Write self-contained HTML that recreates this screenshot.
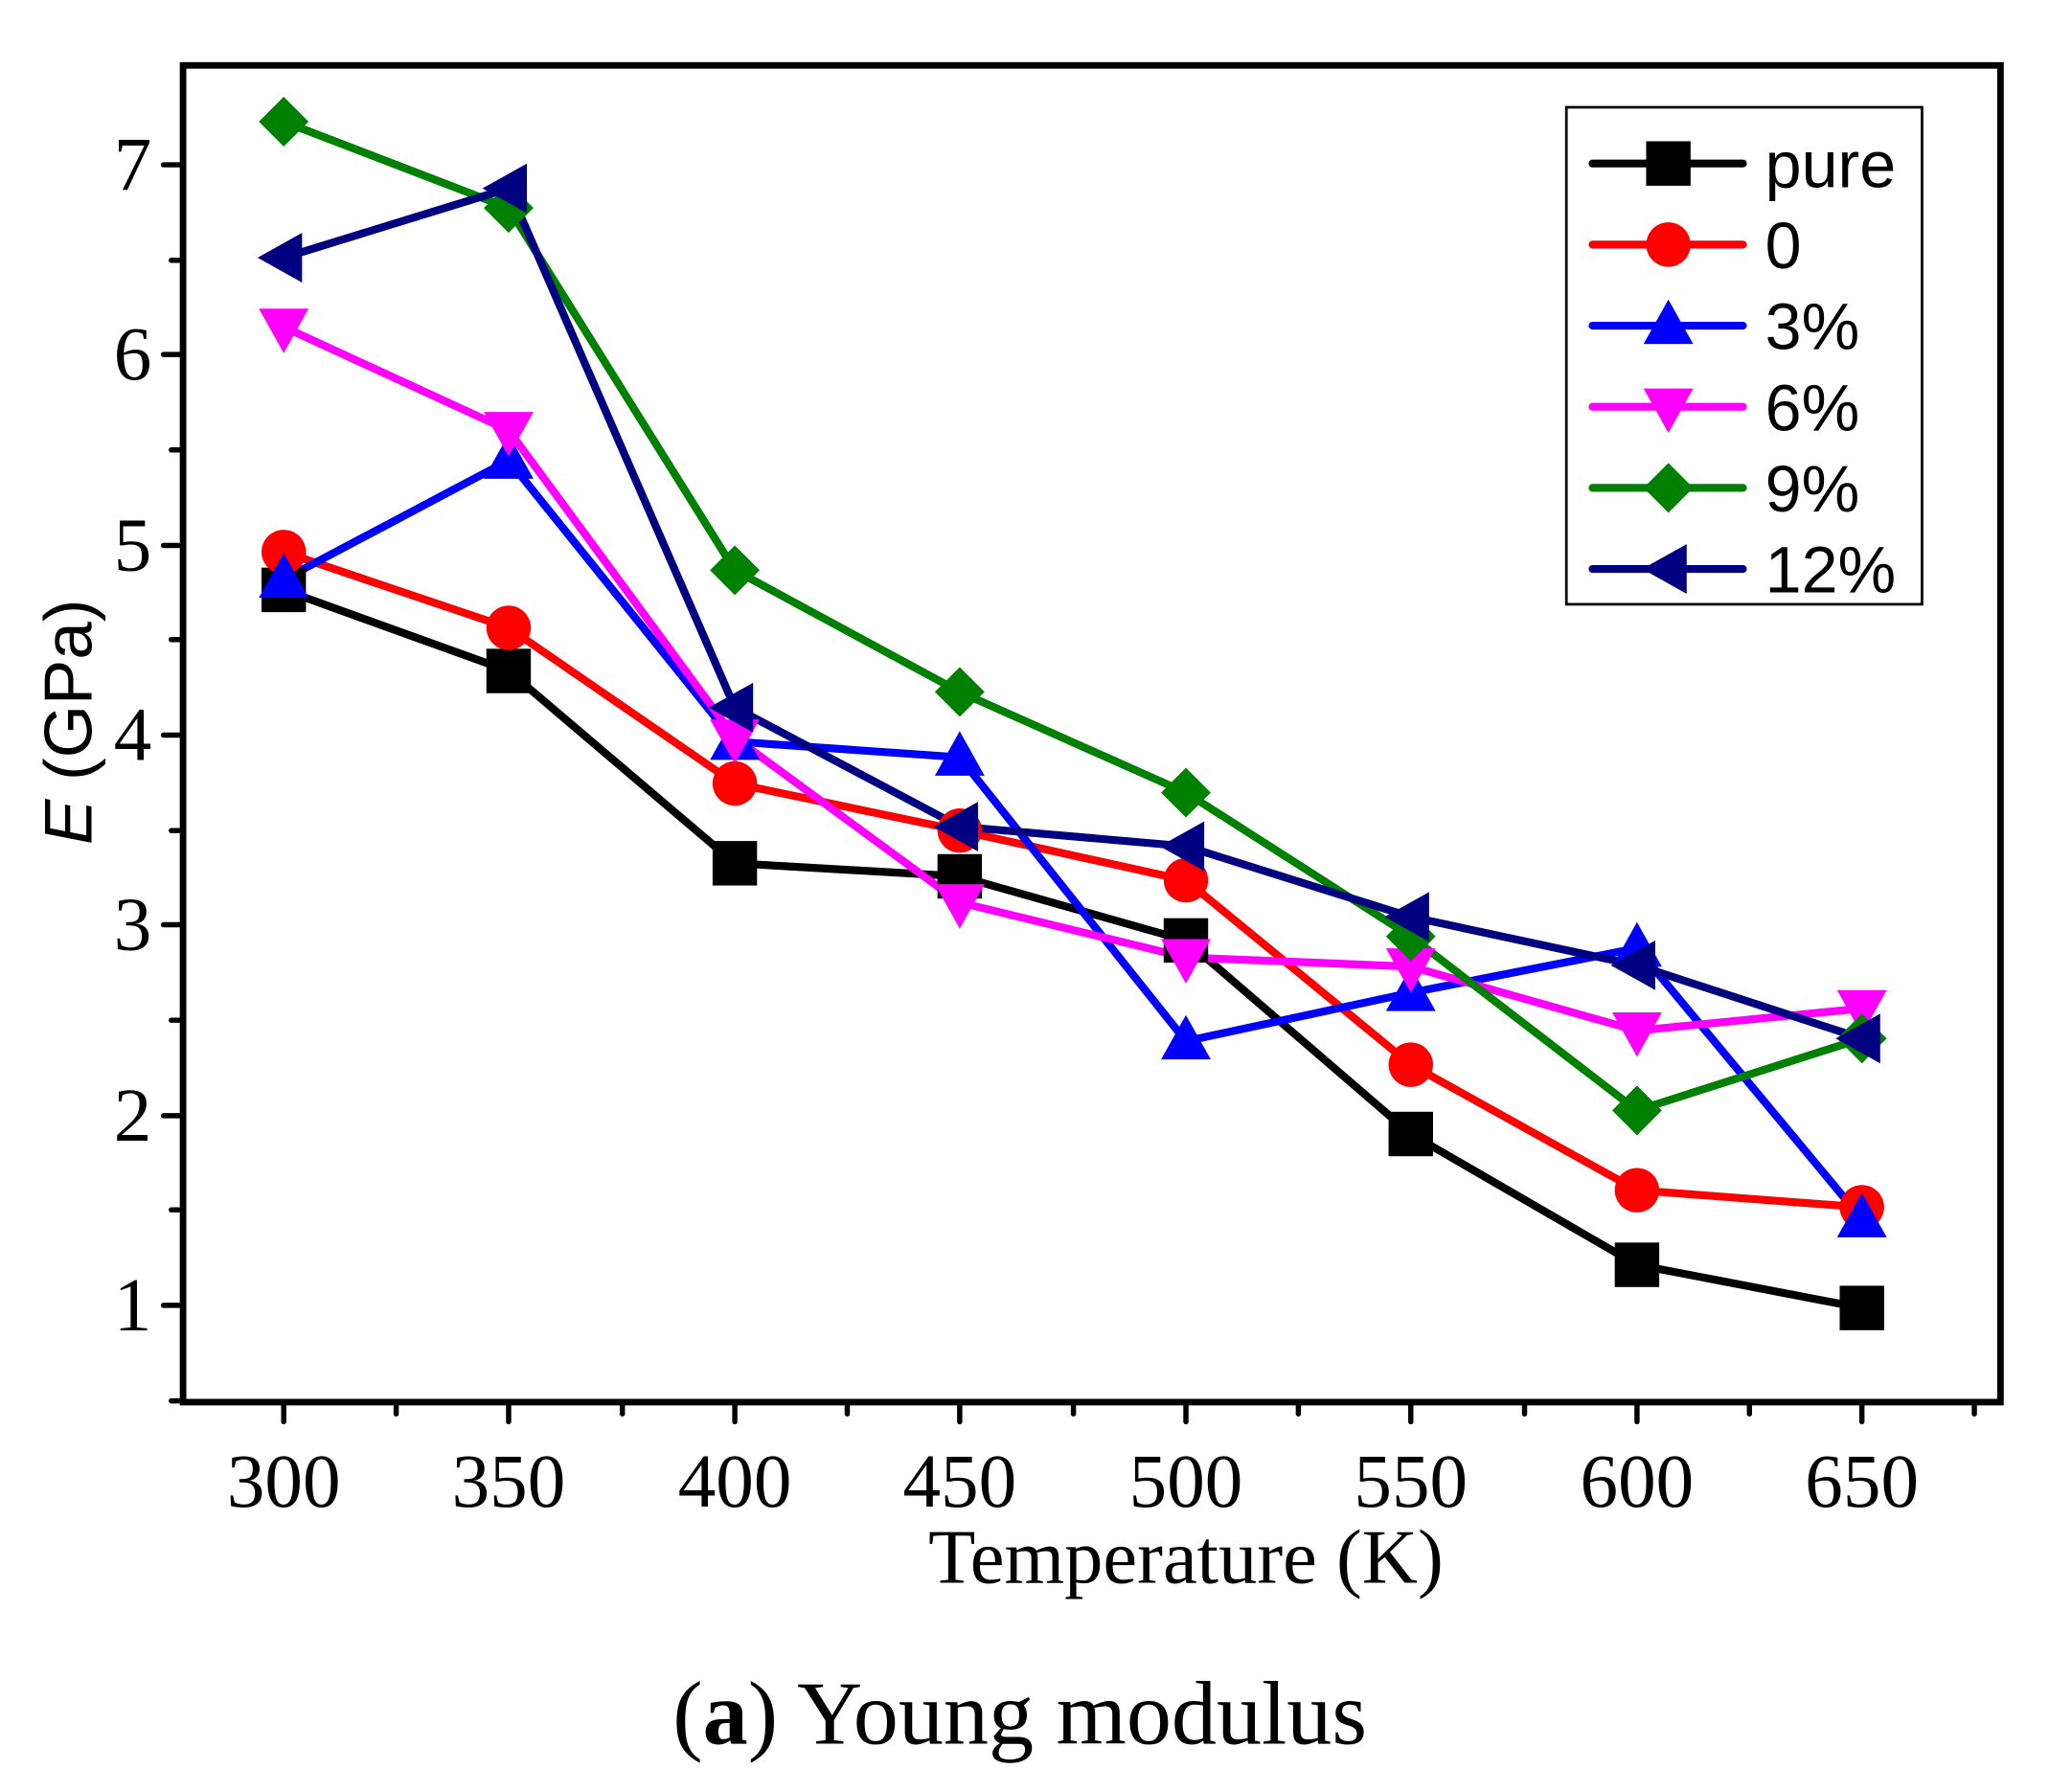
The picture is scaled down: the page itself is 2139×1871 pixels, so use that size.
<!DOCTYPE html>
<html><head><meta charset="utf-8"><style>
html,body{margin:0;padding:0;background:#fff;}
svg{display:block;}
</style></head><body>
<svg width="2139" height="1871" viewBox="0 0 1553 1355" preserveAspectRatio="none" xmlns="http://www.w3.org/2000/svg">
<rect width="1553" height="1355" fill="#fff"/>
<defs>
<rect id="sq" x="-17" y="-17" width="34" height="34" fill="#000"/>
<circle id="ci" r="17" fill="#ff0000"/>
<polygon id="tu" points="0,-20 19,14 -19,14" fill="#0000ff"/>
<polygon id="td" points="0,20 19,-14 -19,-14" fill="#ff00ff"/>
<polygon id="di" points="0,-19 19,0 0,19 -19,0" fill="#008000"/>
<polygon id="tl" points="-20,0 14,-19 14,19" fill="#000080"/>
</defs>
<g transform="scale(0.991,0.989)">
<g stroke="#000" stroke-width="5" fill="none">
<rect x="140" y="50" width="1390" height="1022"/>
</g>
<g stroke="#000" stroke-width="4" stroke-linecap="round">
<line x1="217" y1="1072" x2="217" y2="1087"/><line x1="389" y1="1072" x2="389" y2="1087"/><line x1="562" y1="1072" x2="562" y2="1087"/><line x1="734" y1="1072" x2="734" y2="1087"/><line x1="907" y1="1072" x2="907" y2="1087"/><line x1="1079" y1="1072" x2="1079" y2="1087"/><line x1="1252" y1="1072" x2="1252" y2="1087"/><line x1="1424" y1="1072" x2="1424" y2="1087"/>
<line x1="303" y1="1072" x2="303" y2="1081"/><line x1="476" y1="1072" x2="476" y2="1081"/><line x1="648" y1="1072" x2="648" y2="1081"/><line x1="821" y1="1072" x2="821" y2="1081"/><line x1="993" y1="1072" x2="993" y2="1081"/><line x1="1166" y1="1072" x2="1166" y2="1081"/><line x1="1338" y1="1072" x2="1338" y2="1081"/><line x1="1510" y1="1072" x2="1510" y2="1081"/>
<line x1="125" y1="998" x2="140" y2="998"/><line x1="125" y1="853" x2="140" y2="853"/><line x1="125" y1="707" x2="140" y2="707"/><line x1="125" y1="562" x2="140" y2="562"/><line x1="125" y1="417" x2="140" y2="417"/><line x1="125" y1="271" x2="140" y2="271"/><line x1="125" y1="126" x2="140" y2="126"/>
<line x1="131" y1="1071" x2="140" y2="1071"/><line x1="131" y1="925" x2="140" y2="925"/><line x1="131" y1="780" x2="140" y2="780"/><line x1="131" y1="635" x2="140" y2="635"/><line x1="131" y1="489" x2="140" y2="489"/><line x1="131" y1="344" x2="140" y2="344"/><line x1="131" y1="199" x2="140" y2="199"/>
</g>
<g font-family="Liberation Serif, serif" font-size="58" fill="#000" text-anchor="end">
<text x="116" y="1017">1</text><text x="116" y="872">2</text><text x="116" y="726">3</text><text x="116" y="581">4</text><text x="116" y="436">5</text><text x="116" y="290">6</text><text x="116" y="145">7</text>
</g>
<g font-family="Liberation Serif, serif" font-size="58" fill="#000" text-anchor="middle">
<text x="217" y="1152">300</text><text x="389" y="1152">350</text><text x="562" y="1152">400</text><text x="734" y="1152">450</text><text x="907" y="1152">500</text><text x="1079" y="1152">550</text><text x="1252" y="1152">600</text><text x="1424" y="1152">650</text>
<text x="907" y="1210" font-size="59">Temperature (K)</text>
<text x="780" y="1333" font-size="69">(<tspan font-weight="bold">a</tspan>) Young modulus</text>
</g>
<text transform="translate(70,552) rotate(-90)" font-family="Liberation Sans, sans-serif" font-size="52" text-anchor="middle"><tspan font-style="italic">E</tspan> (GPa)</text>

<g stroke-width="6" fill="none" stroke-linejoin="round">
<polyline stroke="#000" points="217,451 389,513 562,660 734,670 907,719 1079,867 1252,967 1424,1000"/>
<polyline stroke="#ff0000" points="217,422 389,480 562,599 734,635 907,673 1079,814 1252,910 1424,923"/>
<polyline stroke="#0000ff" points="217,443 389,352 562,567 734,579 907,796 1079,759 1252,725 1424,932"/>
<polyline stroke="#ff00ff" points="217,250 389,329 562,564 734,690 907,732 1079,739 1252,788 1424,771"/>
<polyline stroke="#008000" points="217,93 389,159 562,436 734,529 907,606 1079,716 1252,849 1424,794"/>
<polyline stroke="#000080" points="217,197 389,144 562,541 734,632 907,647 1079,701 1252,738 1424,794"/>
</g>
<g>
<use href="#sq" x="217" y="451"/><use href="#sq" x="389" y="513"/><use href="#sq" x="562" y="660"/><use href="#sq" x="734" y="670"/><use href="#sq" x="907" y="719"/><use href="#sq" x="1079" y="867"/><use href="#sq" x="1252" y="967"/><use href="#sq" x="1424" y="1000"/>
<use href="#ci" x="217" y="422"/><use href="#ci" x="389" y="480"/><use href="#ci" x="562" y="599"/><use href="#ci" x="734" y="635"/><use href="#ci" x="907" y="673"/><use href="#ci" x="1079" y="814"/><use href="#ci" x="1252" y="910"/><use href="#ci" x="1424" y="923"/>
<use href="#tu" x="217" y="443"/><use href="#tu" x="389" y="352"/><use href="#tu" x="562" y="567"/><use href="#tu" x="734" y="579"/><use href="#tu" x="907" y="796"/><use href="#tu" x="1079" y="759"/><use href="#tu" x="1252" y="725"/><use href="#tu" x="1424" y="932"/>
<use href="#td" x="217" y="250"/><use href="#td" x="389" y="329"/><use href="#td" x="562" y="564"/><use href="#td" x="734" y="690"/><use href="#td" x="907" y="732"/><use href="#td" x="1079" y="739"/><use href="#td" x="1252" y="788"/><use href="#td" x="1424" y="771"/>
<use href="#di" x="217" y="93"/><use href="#di" x="389" y="159"/><use href="#di" x="562" y="436"/><use href="#di" x="734" y="529"/><use href="#di" x="907" y="606"/><use href="#di" x="1079" y="716"/><use href="#di" x="1252" y="849"/><use href="#di" x="1424" y="794"/>
<use href="#tl" x="217" y="197"/><use href="#tl" x="389" y="144"/><use href="#tl" x="562" y="541"/><use href="#tl" x="734" y="632"/><use href="#tl" x="907" y="647"/><use href="#tl" x="1079" y="701"/><use href="#tl" x="1252" y="738"/><use href="#tl" x="1424" y="794"/>
</g>
<rect x="1198" y="82" width="272" height="380" fill="#fff" stroke="#000" stroke-width="2"/>
<g stroke-width="6" stroke-linecap="round">
<line x1="1218" y1="125" x2="1333" y2="125" stroke="#000"/>
<line x1="1218" y1="187" x2="1333" y2="187" stroke="#ff0000"/>
<line x1="1218" y1="249" x2="1333" y2="249" stroke="#0000ff"/>
<line x1="1218" y1="311" x2="1333" y2="311" stroke="#ff00ff"/>
<line x1="1218" y1="373" x2="1333" y2="373" stroke="#008000"/>
<line x1="1218" y1="435" x2="1333" y2="435" stroke="#000080"/>
</g>
<use href="#sq" x="1276" y="125"/><use href="#ci" x="1276" y="187"/><use href="#tu" x="1276" y="249"/><use href="#td" x="1276" y="311"/><use href="#di" x="1276" y="373"/><use href="#tl" x="1276" y="435"/>
<g font-family="Liberation Sans, sans-serif" font-size="50" fill="#000">
<text x="1350" y="143">pure</text><text x="1350" y="205">0</text><text x="1350" y="267">3%</text><text x="1350" y="329">6%</text><text x="1350" y="391">9%</text><text x="1350" y="453">12%</text>
</g>
</g>
</svg>
</body></html>
